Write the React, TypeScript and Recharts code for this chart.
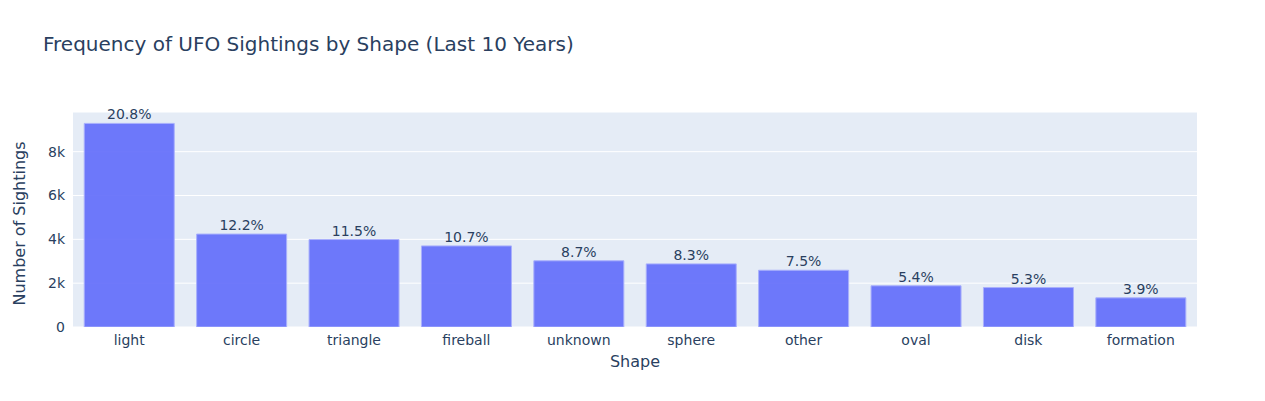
import React from "react"
import { BarChart, Bar, XAxis, YAxis, CartesianGrid, LabelList } from "recharts"

const shapes = ["light", "circle", "triangle", "fireball", "unknown", "sphere", "other", "oval", "disk", "formation"]
const sightings = [9290, 4240, 3990, 3700, 3020, 2880, 2590, 1880, 1800, 1330]
const shares = ["20.8%", "12.2%", "11.5%", "10.7%", "8.7%", "8.3%", "7.5%", "5.4%", "5.3%", "3.9%"]
const yTicks = [0, 2000, 4000, 6000, 8000]

const data = shapes.map((shape, i) => ({ shape, count: sightings[i], share: shares[i] }))

const font = "'DejaVu Sans', Verdana, sans-serif"

export default function App() {
  return (
    <div style={{ position: "absolute", left: 0, top: 0, width: 1265, height: 401, background: "#fff", fontFamily: font }}>
      <div style={{ position: "absolute", left: 43, top: 32, fontSize: 20, color: "#2a3f5f" }}>
        Frequency of UFO Sightings by Shape (Last 10 Years)
      </div>
      <BarChart
        width={1265}
        height={401}
        data={data}
        margin={{ top: 112, right: 68, bottom: 44, left: 13 }}
        barCategoryGap="10%"
      >
        <CartesianGrid vertical={false} stroke="#fff" fill="#E5ECF6" />
        <XAxis
          dataKey="shape"
          height={30}
          tickLine={false}
          axisLine={false}
          tick={{ fill: "#2a3f5f", fontSize: 14, fontFamily: font }}
          tickMargin={2}
          label={{ value: "Shape", position: "insideBottom", offset: -10, fill: "#2a3f5f", fontSize: 16, fontFamily: font }}
        />
        <YAxis
          width={60}
          domain={[0, 9810]}
          ticks={yTicks}
          tickFormatter={(v: number) => (v === 0 ? "0" : `${v / 1000}k`)}
          tickLine={false}
          axisLine={false}
          tick={{ fill: "#2a3f5f", fontSize: 14, fontFamily: font }}
          allowDataOverflow
          label={{ value: "Number of Sightings", angle: -90, position: "insideLeft", offset: 6, dy: 86, fill: "#2a3f5f", fontSize: 16, fontFamily: font }}
        />
        <Bar dataKey="count" fill="#636EFA" fillOpacity={0.92} stroke="#a9b0fc" strokeWidth={1} isAnimationActive={false}>
          <LabelList dataKey="share" position="top" offset={4} fill="#2a3f5f" fontSize={14} fontFamily={font} />
        </Bar>
      </BarChart>
    </div>
  )
}
